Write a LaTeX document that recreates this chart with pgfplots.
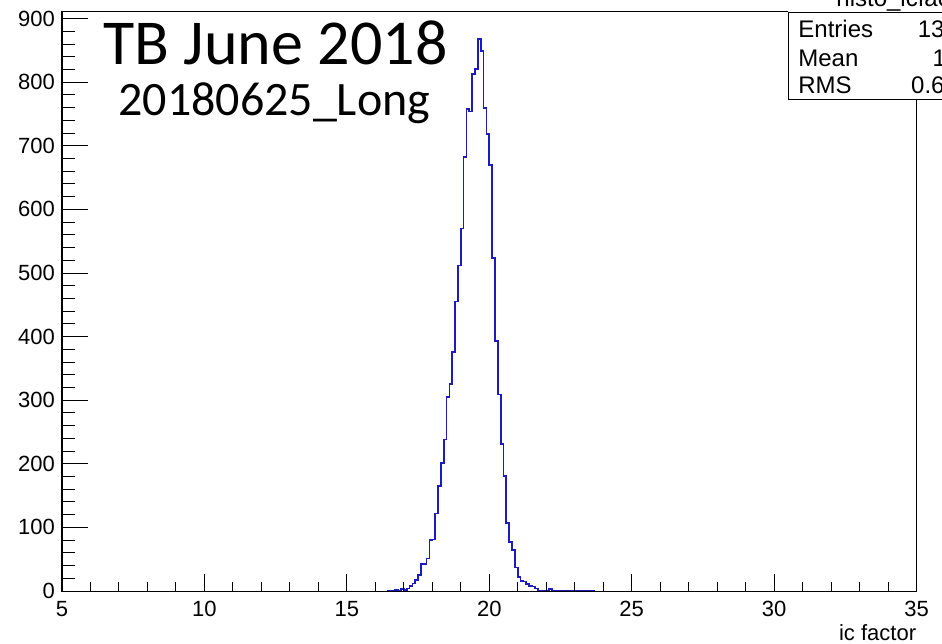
\documentclass[border=0pt]{standalone}
\usepackage{fontspec}
\setmainfont{Liberation Sans}
\newfontfamily\calibri{Carlito}
\usepackage{pgfplots}
\pgfplotsset{compat=1.18}
\definecolor{histblue}{RGB}{28,28,190}

% ic factor histogram, 0.1 wide bins (left edge, entries)
\pgfplotstableread{
x y
16.4 0
16.5 1
16.6 1
16.7 2
16.8 1
16.9 3
17.0 2
17.1 4
17.2 8
17.3 12
17.4 17
17.5 25
17.6 43
17.7 43
17.8 51
17.9 80
18.0 81
18.1 122
18.2 165
18.3 201
18.4 238
18.5 305
18.6 325
18.7 376
18.8 455
18.9 512
19.0 570
19.1 682
19.2 758
19.3 754
19.4 813
19.5 821
19.6 868
19.7 849
19.8 760
19.9 719
20.0 670
20.1 524
20.2 393
20.3 309
20.4 231
20.5 181
20.6 107
20.7 77
20.8 64
20.9 37
21.0 22
21.1 16
21.2 15
21.3 11
21.4 8
21.5 7
21.6 4
21.7 0
21.8 0
21.9 1
22.0 1
22.1 3
22.2 0
22.3 0
22.4 0
22.5 0
22.6 1
22.7 0
22.8 0
22.9 0
23.0 0
23.1 0
23.2 0
23.3 0
23.4 0
23.5 1
23.6 0
23.7 0
}\histdata

\pgfplotsset{
  rootframe/.style={
    at={(31pt,26pt)}, anchor=south west,
    scale only axis, width=427.25pt, height=290pt,
    xmin=5, xmax=35, ymin=0, ymax=912,
    axis on top,
    tick pos=left, tick align=inside,
    axis line style={black, line width=0.5pt},
    every tick/.style={black, line width=0.5pt},
    /pgf/number format/assume math mode=true,
    ticklabel style={font=\fontsize{11}{13}\selectfont},
  },
}

\begin{document}
\begin{tikzpicture}[x=0.5pt,y=0.5pt]
% frame, x ticks and the histogram
\begin{axis}[rootframe,
    xtick={5,10,...,35}, minor x tick num=4,
    ytick=\empty,
    major tick length=8.5pt, minor tick length=4.3pt,
    xticklabel style={yshift=-1.5pt},
    xlabel={ic factor},
    xlabel style={at={(axis description cs:1,0)}, anchor=base east,
                  yshift=-24.5pt, inner sep=0pt, font=\fontsize{11}{13}\selectfont},
  ]
  \addplot[const plot mark left, histblue, line width=0.85pt, mark=none]
    table[x=x, y=y] {\histdata};
\end{axis}
% y ticks
\begin{axis}[rootframe,
    xtick=\empty,
    ytick={0,100,...,900}, minor y tick num=4,
    major tick length=13pt, minor tick length=6.5pt,
  ]
\end{axis}

% run label
\node[anchor=base west, inner sep=0pt, font=\calibri\fontsize{32}{36}\selectfont]
  at (103,578) {TB June 2018};
\node[anchor=base west, inner sep=0pt, font=\calibri\fontsize{24}{28}\selectfont]
  at (118,527) {20180625\_Long};

% statistics box
\fill[white] (788,543) rectangle (1000,680);
\draw[black, line width=0.5pt] (788,630) -- (788,543) -- (1000,543);
\draw[black, line width=0.5pt] (788,630) -- (1000,630);
\node[anchor=base west, inner sep=0pt, font=\fontsize{12}{14}\selectfont] at (836,636) {histo\_icfactor};
\begin{scope}[every node/.style={inner sep=0pt, font=\fontsize{12}{14}\selectfont}]
  \node[anchor=base west] at (798,605) {Entries};
  \node[anchor=base west] at (798,576) {Mean};
  \node[anchor=base west] at (798,549) {RMS};
  \node[anchor=base east] at (985,605) {13350};
  \node[anchor=base east] at (993,576) {19.53};
  \node[anchor=base east] at (985,549) {0.6233};
\end{scope}

\pgfresetboundingbox
\useasboundingbox (0,0) rectangle (942,643);
\end{tikzpicture}
\end{document}
